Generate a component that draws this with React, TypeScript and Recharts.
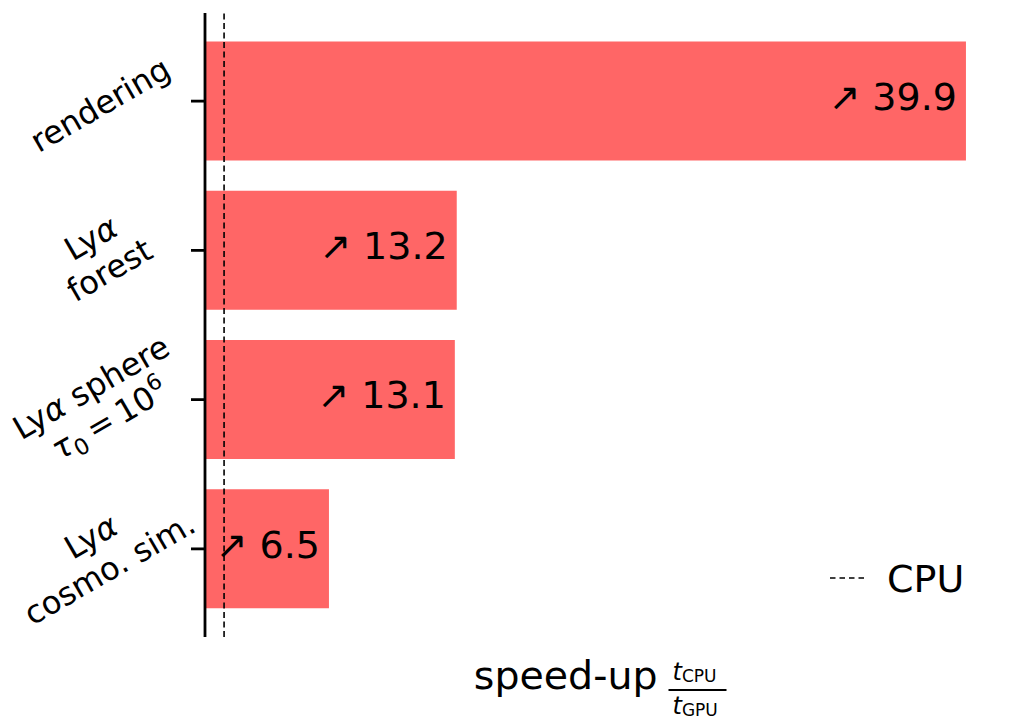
import React from 'react';
import { BarChart, Bar, XAxis, YAxis, ReferenceLine, LabelList, Legend } from 'recharts';

const categories = ['rendering', 'Lyα forest', 'Lyα sphere', 'Lyα cosmo. sim.'];
const tickLines = [['rendering'], ['Lyα', 'forest'], ['Lyα sphere', 'τ_0\u2009=\u200910^6'], ['Lyα', 'cosmo. sim.']];
const speedUp = [39.9, 13.2, 13.1, 6.5];
const cpuLevel = 1;

const data = categories.map((name, i) => ({ name, speedUp: speedUp[i] }));

const FONT = 'DejaVu Sans';
const TICK_FS = 32;
const LINE_H = 37;

// tiny markup: α/τ italic, _x subscript, ^x superscript
const mathLine = (line: string, fs: number) => {
  const parts: React.ReactNode[] = [];
  let run = '';
  let pendingDy = 0;
  let k = 0;
  const flush = () => {
    if (!run) return;
    parts.push(<tspan key={k++} dy={pendingDy || undefined}>{run}</tspan>);
    pendingDy = 0;
    run = '';
  };
  for (let i = 0; i < line.length; i++) {
    const ch = line[i];
    if ((ch === '_' || ch === '^') && i + 1 < line.length) {
      flush();
      const d = ch === '_' ? fs * 0.2 : -fs * 0.42;
      parts.push(
        <tspan key={k++} dy={d + pendingDy} fontSize={fs * 0.7}>
          {line[i + 1]}
        </tspan>
      );
      pendingDy = -d;
      i++;
    } else if (ch === 'α' || ch === 'τ') {
      flush();
      parts.push(
        <tspan key={k++} fontStyle="italic" dy={pendingDy || undefined}>
          {ch}
        </tspan>
      );
      pendingDy = 0;
    } else {
      run += ch;
    }
  }
  flush();
  return parts;
};

const CategoryTick = (props: any) => {
  const { x, y, payload } = props;
  const idx = categories.indexOf(payload.value);
  const lines = tickLines[idx] || [payload.value];
  const n = lines.length;
  return (
    <g transform={`translate(${x - 88}, ${y + 5}) rotate(-30)`}>
      {lines.map((ln, i) => (
        <text
          key={i}
          x={0}
          y={(i - (n - 1) / 2) * LINE_H + TICK_FS * 0.3}
          textAnchor="middle"
          fontSize={TICK_FS}
          fontFamily={FONT}
          fill="#000"
          style={{ whiteSpace: 'pre' }}
        >
          {mathLine(ln, TICK_FS)}
        </text>
      ))}
    </g>
  );
};

const BarValue = (props: any) => {
  const { x, y, width, height, value } = props;
  return (
    <text
      x={x + width - 9}
      y={y + height / 2 + 9}
      textAnchor="end"
      fontSize={38}
      fontFamily={FONT}
      fill="#000"
    >
      {'↗ ' + Number(value).toFixed(1)}
    </text>
  );
};

const SpeedUpLabel = (props: any) => {
  const vb = props.viewBox;
  const cx = vb.x + vb.width / 2;
  const base = vb.y + 52;
  return (
    <g fontFamily={FONT} fill="#000">
      <text x={cx + 53} y={base} textAnchor="end" fontSize={39.5}>
        speed-up
      </text>
      <text x={cx + 68} y={base - 9} fontSize={24}>
        <tspan fontStyle="italic">t</tspan>
        <tspan fontSize={17} dy={2}>CPU</tspan>
      </text>
      <line x1={cx + 64} x2={cx + 122} y1={base + 1} y2={base + 1} stroke="#000" strokeWidth={2} />
      <text x={cx + 68} y={base + 25} fontSize={24}>
        <tspan fontStyle="italic">t</tspan>
        <tspan fontSize={17} dy={2}>GPU</tspan>
      </text>
    </g>
  );
};

const CpuLegend = () => (
  <svg width={150} height={50}>
    <line x1={4} x2={42} y1={26} y2={26} stroke="#000" strokeWidth={1.5} strokeDasharray="5.5 4" />
    <text x={61} y={40} fontSize={38} fontFamily={FONT} fill="#000">
      CPU
    </text>
  </svg>
);

export default function App() {
  const xMax = Math.max(...speedUp) * 1.05;
  return (
    <div style={{ position: 'absolute', left: 0, top: 0, width: 1025, height: 724, background: '#fff', fontFamily: FONT }}>
      <BarChart
        width={1025}
        height={724}
        data={data}
        layout="vertical"
        margin={{ top: 13, right: 21, bottom: 0, left: 0 }}
        barCategoryGap="10%"
      >
        <XAxis
          type="number"
          domain={[0, xMax]}
          axisLine={false}
          tickLine={false}
          tick={false}
          height={87}
          label={{ content: SpeedUpLabel }}
        />
        <YAxis
          type="category"
          dataKey="name"
          width={205}
          interval={0}
          tickSize={14}
          stroke="#000"
          strokeWidth={2.8}
          tickLine={{ stroke: '#000', strokeWidth: 2.8 }}
          axisLine={{ stroke: '#000', strokeWidth: 2.8 }}
          padding={{ top: 13.5, bottom: 13.5 }}
          tick={<CategoryTick />}
        />
        <Bar dataKey="speedUp" fill="#ff6666" isAnimationActive={false}>
          <LabelList dataKey="speedUp" content={BarValue} />
        </Bar>
        <ReferenceLine x={cpuLevel} stroke="#000" strokeWidth={1.6} strokeDasharray="6 3.5" />
        <Legend
          layout="horizontal"
          verticalAlign="middle"
          align="center"
          content={CpuLegend}
          wrapperStyle={{ position: 'absolute', left: 826, top: 552, width: 150, height: 50 }}
        />
      </BarChart>
    </div>
  );
}
